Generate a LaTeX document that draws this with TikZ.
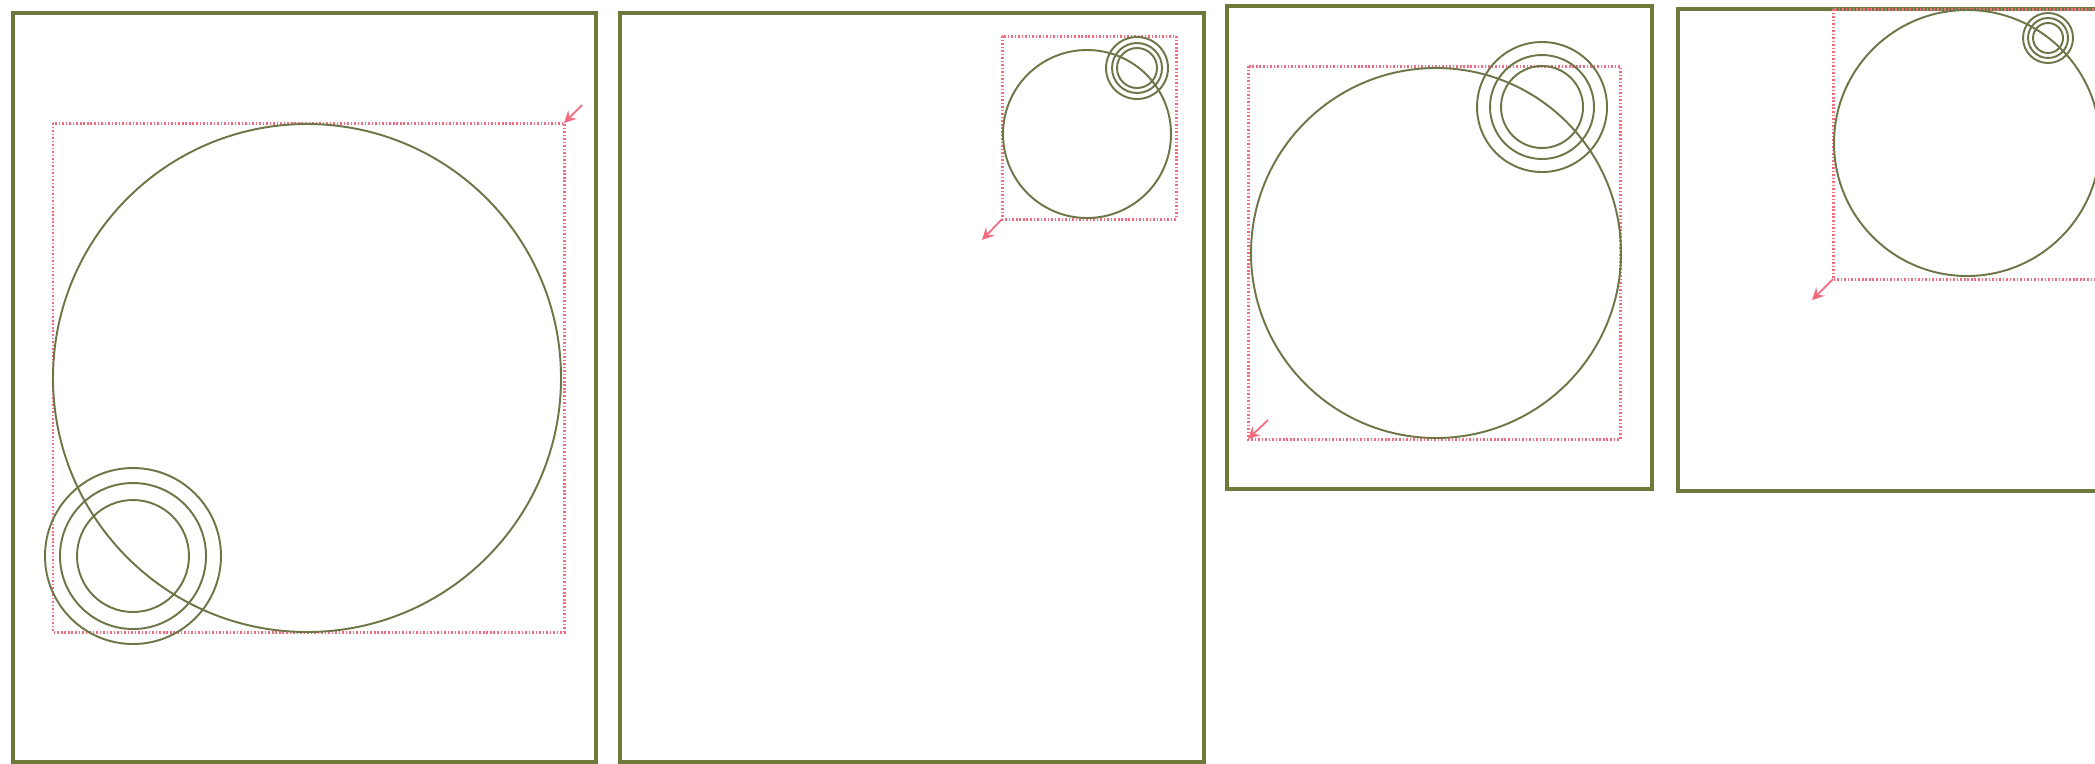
\documentclass[tikz,border=0pt]{standalone}
\usepackage{xcolor}
\usepackage{tikz}
\usetikzlibrary{arrows}

\definecolor{framegreen}{HTML}{6E7A3C}
\definecolor{ringgreen}{HTML}{6E7648}
\definecolor{markred}{HTML}{F26C80}

\begin{document}
\begin{tikzpicture}[x=0.01cm, y=-0.01cm]
	% Styles
	\tikzstyle{frame} = [draw=framegreen, line width=0.9pt]
	\tikzstyle{ring} = [draw=ringgreen, line width=0.55pt]
	\tikzstyle{bbox} = [draw=markred, line width=0.85pt, dash pattern=on 0.45pt off 0.55pt]
	\tikzstyle{arrow} = [draw=markred, line width=0.5pt, ->, >=stealth]

	\clip (0,0) rectangle (2095,763);
	\fill[white] (0,0) rectangle (2095,763);

	% Panel 1
	\draw[frame] (13,13) rectangle (596,762);
	\draw[bbox] (53,123) rectangle (564,632);
	\draw[ring] (307,378) circle (254);
	\foreach \r in {88,73,56}
		\draw[ring] (133,556) circle (\r);
	\coordinate (corner1) at (564,123);
	\coordinate (tip1) at (582,105);
	\draw[arrow] (tip1) -- (corner1);

	% Panel 2
	\draw[frame] (620,13) rectangle (1204,762);
	\draw[bbox] (1002,36) rectangle (1176,219);
	\draw[ring] (1087,134) circle (84);
	\foreach \r in {31,25,20}
		\draw[ring] (1137,68) circle (\r);
	\coordinate (corner2) at (1002,219);
	\coordinate (tip2) at (982,240);
	\draw[arrow] (corner2) -- (tip2);

	% Panel 3
	\draw[frame] (1227,6) rectangle (1652,489);
	\draw[bbox] (1248,66) rectangle (1620,439);
	\draw[ring] (1436,253) circle (185);
	\foreach \r in {65,52,41}
		\draw[ring] (1542,107) circle (\r);
	\coordinate (corner3) at (1248,439);
	\coordinate (tip3) at (1268,420);
	\draw[arrow] (tip3) -- (corner3);

	% Panel 4 (cut at the right edge)
	\draw[frame] (1678,9) rectangle (2110,491);
	\draw[bbox] (1833,9) rectangle (2110,279);
	\draw[ring] (1967,143) circle (133);
	\foreach \r in {25,20,15}
		\draw[ring] (2048,38) circle (\r);
	\coordinate (corner4) at (1833,279);
	\coordinate (tip4) at (1812,300);
	\draw[arrow] (corner4) -- (tip4);

\end{tikzpicture}
\end{document}
